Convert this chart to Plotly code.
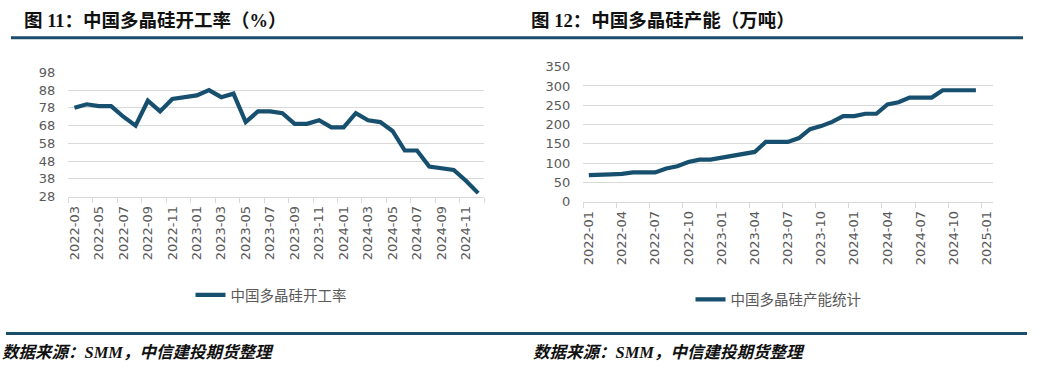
import plotly.graph_objects as go

# ---------------- data ----------------
rate_months = [
    "2022-03", "2022-04", "2022-05", "2022-06", "2022-07", "2022-08", "2022-09", "2022-10",
    "2022-11", "2022-12", "2023-01", "2023-02", "2023-03", "2023-04", "2023-05", "2023-06",
    "2023-07", "2023-08", "2023-09", "2023-10", "2023-11", "2023-12", "2024-01", "2024-02",
    "2024-03", "2024-04", "2024-05", "2024-06", "2024-07", "2024-08", "2024-09", "2024-10",
    "2024-11", "2024-12",
]
rate_values = [
    78, 80, 79, 79, 73, 68, 82, 76,
    83, 84, 85, 88, 84, 86, 70, 76,
    76, 75, 69, 69, 71, 67, 67, 75,
    71, 70, 65, 54, 54, 45, 44, 43,
    37, 30,
]
rate_name = "中国多晶硅开工率"
rate_yticks = [28, 38, 48, 58, 68, 78, 88, 98]

cap_axis_months = [
    "2022-01", "2022-02", "2022-03", "2022-04", "2022-05", "2022-06", "2022-07", "2022-08",
    "2022-09", "2022-10", "2022-11", "2022-12", "2023-01", "2023-02", "2023-03", "2023-04",
    "2023-05", "2023-06", "2023-07", "2023-08", "2023-09", "2023-10", "2023-11", "2023-12",
    "2024-01", "2024-02", "2024-03", "2024-04", "2024-05", "2024-06", "2024-07", "2024-08",
    "2024-09", "2024-10", "2024-11", "2024-12", "2025-01",
]
cap_values = [
    69, 69, 71, 72, 76, 76, 76, 86,
    92, 103, 109, 109, 114, 121, 125, 129,
    155, 155, 155, 165, 188, 196, 207, 222,
    222, 228, 228, 252, 258, 270, 270, 270,
    289, 289, 289, 289,
]
cap_name = "中国多晶硅产能统计"
cap_yticks = [0, 50, 100, 150, 200, 250, 300, 350]

title_left = "图 11：中国多晶硅开工率（%）"
title_right = "图 12：中国多晶硅产能（万吨）"
source_text = "数据来源：SMM，中信建投期货整理"

# ---------------- styles ----------------
W, H = 1046, 372
LINE = "#17506F"
RULE = "#1B4D6C"
GRID = "#D9D9D9"
TXT = "#595959"
TICKFONT = dict(family="DejaVu Sans, Noto Sans CJK SC", size=13, color=TXT)
CJK = "Noto Sans CJK SC"


def px_x(x):
    return x / W


def px_y(y):
    return 1 - y / H


fig = go.Figure()

fig.add_trace(go.Scatter(
    x=rate_months, y=rate_values, name=rate_name, mode="lines",
    line=dict(color=LINE, width=4.2), xaxis="x", yaxis="y", legend="legend",
    hoverinfo="skip",
))
fig.add_trace(go.Scatter(
    x=cap_axis_months[:len(cap_values)], y=cap_values, name=cap_name, mode="lines",
    line=dict(color=LINE, width=4.2), xaxis="x2", yaxis="y2", legend="legend2",
    hoverinfo="skip",
))

common_x = dict(
    type="category", tickangle=-90, tickson="boundaries", ticks="outside",
    ticklen=5, tickcolor=GRID, tickwidth=1, showline=True, linecolor=GRID,
    linewidth=1, showgrid=False, zeroline=False, tickfont=TICKFONT, automargin=False,
    ticklabelstandoff=3,
)
common_y = dict(
    showgrid=True, gridcolor=GRID, gridwidth=1, zeroline=False, showline=False,
    ticks="", tickfont=TICKFONT, ticklabelstandoff=12, automargin=False,
)

fig.update_layout(
    width=W, height=H,
    margin=dict(l=0, r=0, t=0, b=0, pad=0, autoexpand=False),
    paper_bgcolor="white", plot_bgcolor="white",
    xaxis=dict(common_x, domain=[px_x(68.3), px_x(484.3)], anchor="y",
               categoryorder="array", categoryarray=rate_months,
               range=[-0.5, len(rate_months) - 0.5], tick0=0, dtick=2),
    yaxis=dict(common_y, domain=[px_y(196.7), px_y(72.3)], anchor="x",
               range=[rate_yticks[0], rate_yticks[-1]], tickvals=rate_yticks),
    xaxis2=dict(common_x, domain=[px_x(583.3), px_x(992.5)], anchor="y2",
                categoryorder="array", categoryarray=cap_axis_months,
                range=[-0.5, len(cap_axis_months) - 0.5], tick0=0, dtick=3),
    yaxis2=dict(common_y, domain=[px_y(201.7), px_y(66.7)], anchor="x2",
                range=[cap_yticks[0], cap_yticks[-1]], tickvals=cap_yticks),
    legend=dict(x=px_x(190.5), y=px_y(295), xanchor="left", yanchor="middle",
                orientation="h", bgcolor="rgba(0,0,0,0)",
                font=dict(family=CJK, size=14.5, color=TXT)),
    legend2=dict(x=px_x(690.5), y=px_y(299.5), xanchor="left", yanchor="middle",
                 orientation="h", bgcolor="rgba(0,0,0,0)",
                 font=dict(family=CJK, size=14.5, color=TXT)),
    showlegend=True,
)

title_font = dict(family="Liberation Serif, " + CJK, size=18.5, color="#111111", weight="bold")
fig.add_annotation(text=title_left, xref="paper", yref="paper", x=px_x(22), y=px_y(21),
                   xanchor="left", yanchor="middle", showarrow=False, font=title_font)
fig.add_annotation(text=title_right, xref="paper", yref="paper", x=px_x(529), y=px_y(21),
                   xanchor="left", yanchor="middle", showarrow=False, font=title_font)

foot_font = dict(family="Liberation Serif, " + CJK, size=16.5, color="#111111",
                 weight="bold", style="italic")
fig.add_annotation(text=source_text, xref="paper", yref="paper", x=0, y=px_y(352),
                   xanchor="left", yanchor="middle", showarrow=False, font=foot_font)
fig.add_annotation(text=source_text, xref="paper", yref="paper", x=px_x(531), y=px_y(352),
                   xanchor="left", yanchor="middle", showarrow=False, font=foot_font)

# header and footer rules
fig.add_shape(type="line", xref="paper", yref="paper", x0=px_x(11), x1=px_x(1023),
              y0=px_y(37.8), y1=px_y(37.8), line=dict(color=RULE, width=3))
fig.add_shape(type="line", xref="paper", yref="paper", x0=px_x(6), x1=px_x(1027),
              y0=px_y(333.5), y1=px_y(333.5), line=dict(color=RULE, width=3))

fig.write_html(
    "out.html",
    config={"displayModeBar": False, "staticPlot": True},
    post_script="document.body.style.margin='0';document.body.style.overflow='hidden';",
)
